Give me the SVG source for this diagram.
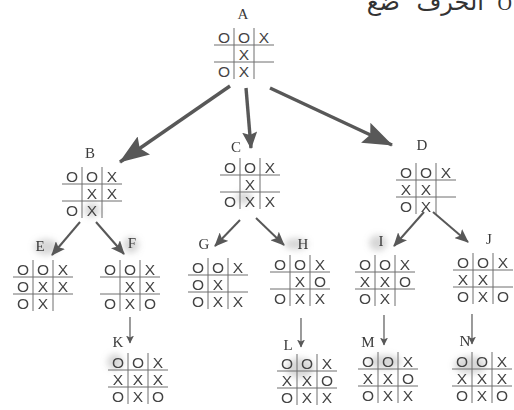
<svg xmlns="http://www.w3.org/2000/svg" width="514" height="410" viewBox="0 0 514 410">
  <defs>
    <style>
      .grid { fill: none; stroke: #6e6e6e; stroke-width: 1; }
      .m { font-family: "Liberation Sans", Arial, sans-serif; font-size: 15.5px; fill: #444; text-anchor: middle; }
      .lbl { font-family: "Liberation Serif", "Times New Roman", serif; font-size: 15px; fill: #3a3a3a; text-anchor: middle; }
      .ar { font-family: "DejaVu Sans", sans-serif; font-size: 24px; fill: #333; text-anchor: end; }
      .arrow-lg { stroke: #585858; stroke-width: 3.4; fill: none; }
      .arrow-sm { stroke: #585858; stroke-width: 2; fill: none; }
      .arrow-xs { stroke: #585858; stroke-width: 1.2; fill: none; }
      .head { fill: #585858; }
      .smudge { fill: #9a9a9a; opacity: 0.4; }
    </style>
    <filter id="soft" x="-20%" y="-20%" width="140%" height="140%">
      <feGaussianBlur stdDeviation="0.6"/>
    </filter>
    <filter id="haze" x="-50%" y="-50%" width="200%" height="200%">
      <feGaussianBlur stdDeviation="3"/>
    </filter>
    <marker id="head-lg" viewBox="0 0 30 22" refX="29" refY="11" markerWidth="30" markerHeight="22" markerUnits="userSpaceOnUse" orient="auto">
      <path class="head" d="M0,0 L30,11 L0,22 L5,11 z"/>
    </marker>
    <marker id="head-md" viewBox="0 0 17 15" refX="16" refY="7.5" markerWidth="17" markerHeight="15" markerUnits="userSpaceOnUse" orient="auto">
      <path class="head" d="M0,0 L17,7.5 L0,15 L3,7.5 z"/>
    </marker>
    <marker id="head-sm" viewBox="0 0 14 12" refX="13" refY="6" markerWidth="14" markerHeight="12" markerUnits="userSpaceOnUse" orient="auto">
      <path class="head" d="M0,0 L14,6 L0,12 L3,6 z"/>
    </marker>
    <marker id="head-xs" viewBox="0 0 8 8" refX="7.5" refY="4" markerWidth="8" markerHeight="8" markerUnits="userSpaceOnUse" orient="auto">
      <path class="head" d="M0,0 L8,4 L0,8 L2,4 z"/>
    </marker>
    <!-- empty 3x3 board: cells 20 wide, 17 tall -->
    <path id="board" class="grid" d="M20,0V51M40,0V51M0,17H60M0,34H60"/>
  </defs>

  <rect width="514" height="410" fill="#ffffff"/>

  <!-- heading line, clipped by the top edge; one word per chunk so the order stays fixed -->
  <text class="ar" y="10"><tspan x="400">ضع</tspan><tspan x="484">الحرف</tspan><tspan x="512" font-family="'Liberation Serif', serif" font-size="20">O</tspan></text>

  <!-- soft grey smudges -->
  <g id="smudges" filter="url(#haze)">
    <ellipse class="smudge" cx="46" cy="247" rx="12" ry="8"/>
    <ellipse class="smudge" cx="131" cy="245" rx="8" ry="8"/>
    <ellipse class="smudge" cx="296" cy="244" rx="12" ry="6"/>
    <ellipse class="smudge" cx="378" cy="243" rx="9" ry="8"/>
    <ellipse class="smudge" cx="92" cy="210" rx="8" ry="7"/>
    <ellipse class="smudge" cx="244" cy="198" rx="8" ry="6"/>
    <ellipse class="smudge" cx="115" cy="362" rx="8" ry="8"/>
    <ellipse class="smudge" cx="300" cy="368" rx="14" ry="10"/>
    <ellipse class="smudge" cx="385" cy="362" rx="16" ry="7"/>
    <ellipse class="smudge" cx="470" cy="365" rx="16" ry="9"/>
  </g>

  <!-- connectors -->
  <g id="connectors" filter="url(#soft)">
    <line class="arrow-lg" x1="230" y1="86" x2="120" y2="162" marker-end="url(#head-lg)"/>
    <line class="arrow-lg" x1="246" y1="88" x2="251" y2="148" marker-end="url(#head-md)"/>
    <line class="arrow-lg" x1="270" y1="88" x2="392" y2="145" marker-end="url(#head-lg)"/>
    <line class="arrow-sm" x1="80" y1="222" x2="52" y2="255" marker-end="url(#head-sm)"/>
    <line class="arrow-sm" x1="96" y1="222" x2="124" y2="254" marker-end="url(#head-sm)"/>
    <line class="arrow-sm" x1="240" y1="220" x2="215" y2="246" marker-end="url(#head-sm)"/>
    <line class="arrow-sm" x1="256" y1="218" x2="284" y2="245" marker-end="url(#head-sm)"/>
    <line class="arrow-sm" x1="424" y1="212" x2="394" y2="246" marker-end="url(#head-sm)"/>
    <line class="arrow-sm" x1="433" y1="212" x2="468" y2="242" marker-end="url(#head-sm)"/>
    <line class="arrow-xs" x1="130" y1="317" x2="130" y2="343" marker-end="url(#head-xs)"/>
    <line class="arrow-xs" x1="301" y1="318" x2="301" y2="347" marker-end="url(#head-xs)"/>
    <line class="arrow-xs" x1="384" y1="315" x2="384" y2="345" marker-end="url(#head-xs)"/>
    <line class="arrow-xs" x1="472" y1="314" x2="472" y2="344" marker-end="url(#head-xs)"/>
  </g>

  <!-- nodes -->
  <g id="node-A">
    <text class="lbl" x="243" y="19">A</text>
    <g transform="translate(214,28)">
      <use href="#board"/>
      <text class="m" x="10" y="14.5">O</text><text class="m" x="30" y="14.5">O</text><text class="m" x="50" y="14.5">X</text>
      <text class="m" x="30" y="31.5">X</text>
      <text class="m" x="10" y="48.5">O</text><text class="m" x="30" y="48.5">X</text>
    </g>
  </g>

  <g id="node-B">
    <text class="lbl" x="90" y="158">B</text>
    <g transform="translate(62,167)">
      <use href="#board"/>
      <text class="m" x="10" y="14.5">O</text><text class="m" x="30" y="14.5">O</text><text class="m" x="50" y="14.5">X</text>
      <text class="m" x="30" y="31.5">X</text><text class="m" x="50" y="31.5">X</text>
      <text class="m" x="10" y="48.5">O</text><text class="m" x="30" y="48.5">X</text>
    </g>
  </g>

  <g id="node-C">
    <text class="lbl" x="236" y="152">C</text>
    <g transform="translate(220,158)">
      <use href="#board"/>
      <text class="m" x="10" y="14.5">O</text><text class="m" x="30" y="14.5">O</text><text class="m" x="50" y="14.5">X</text>
      <text class="m" x="30" y="31.5">X</text>
      <text class="m" x="10" y="48.5">O</text><text class="m" x="30" y="48.5">X</text><text class="m" x="50" y="48.5">X</text>
    </g>
  </g>

  <g id="node-D">
    <text class="lbl" x="422" y="150">D</text>
    <g transform="translate(396,163)">
      <use href="#board"/>
      <text class="m" x="10" y="14.5">O</text><text class="m" x="30" y="14.5">O</text><text class="m" x="50" y="14.5">X</text>
      <text class="m" x="10" y="31.5">X</text><text class="m" x="30" y="31.5">X</text>
      <text class="m" x="10" y="48.5">O</text><text class="m" x="30" y="48.5">X</text>
    </g>
  </g>

  <g id="node-E">
    <text class="lbl" x="40" y="251">E</text>
    <g transform="translate(13,260)">
      <use href="#board"/>
      <text class="m" x="10" y="14.5">O</text><text class="m" x="30" y="14.5">O</text><text class="m" x="50" y="14.5">X</text>
      <text class="m" x="10" y="31.5">O</text><text class="m" x="30" y="31.5">X</text><text class="m" x="50" y="31.5">X</text>
      <text class="m" x="10" y="48.5">O</text><text class="m" x="30" y="48.5">X</text>
    </g>
  </g>

  <g id="node-F">
    <text class="lbl" x="132" y="248">F</text>
    <g transform="translate(100,260)">
      <use href="#board"/>
      <text class="m" x="10" y="14.5">O</text><text class="m" x="30" y="14.5">O</text><text class="m" x="50" y="14.5">X</text>
      <text class="m" x="30" y="31.5">X</text><text class="m" x="50" y="31.5">X</text>
      <text class="m" x="10" y="48.5">O</text><text class="m" x="30" y="48.5">X</text><text class="m" x="50" y="48.5">O</text>
    </g>
  </g>

  <g id="node-G">
    <text class="lbl" x="204" y="249">G</text>
    <g transform="translate(188,258)">
      <use href="#board"/>
      <text class="m" x="10" y="14.5">O</text><text class="m" x="30" y="14.5">O</text><text class="m" x="50" y="14.5">X</text>
      <text class="m" x="10" y="31.5">O</text><text class="m" x="30" y="31.5">X</text>
      <text class="m" x="10" y="48.5">O</text><text class="m" x="30" y="48.5">X</text><text class="m" x="50" y="48.5">X</text>
    </g>
  </g>

  <g id="node-H">
    <text class="lbl" x="303" y="249">H</text>
    <g transform="translate(270,255)">
      <use href="#board"/>
      <text class="m" x="10" y="14.5">O</text><text class="m" x="30" y="14.5">O</text><text class="m" x="50" y="14.5">X</text>
      <text class="m" x="30" y="31.5">X</text><text class="m" x="50" y="31.5">O</text>
      <text class="m" x="10" y="48.5">O</text><text class="m" x="30" y="48.5">X</text><text class="m" x="50" y="48.5">X</text>
    </g>
  </g>

  <g id="node-I">
    <text class="lbl" x="381" y="246">I</text>
    <g transform="translate(355,255)">
      <use href="#board"/>
      <text class="m" x="10" y="14.5">O</text><text class="m" x="30" y="14.5">O</text><text class="m" x="50" y="14.5">X</text>
      <text class="m" x="10" y="31.5">X</text><text class="m" x="30" y="31.5">X</text><text class="m" x="50" y="31.5">O</text>
      <text class="m" x="10" y="48.5">O</text><text class="m" x="30" y="48.5">X</text>
    </g>
  </g>

  <g id="node-J">
    <text class="lbl" x="489" y="244">J</text>
    <g transform="translate(453,253)">
      <use href="#board"/>
      <text class="m" x="10" y="14.5">O</text><text class="m" x="30" y="14.5">O</text><text class="m" x="50" y="14.5">X</text>
      <text class="m" x="10" y="31.5">X</text><text class="m" x="30" y="31.5">X</text>
      <text class="m" x="10" y="48.5">O</text><text class="m" x="30" y="48.5">X</text><text class="m" x="50" y="48.5">O</text>
    </g>
  </g>

  <g id="node-K">
    <text class="lbl" x="118" y="347">K</text>
    <g transform="translate(108,353)">
      <use href="#board"/>
      <text class="m" x="10" y="14.5">O</text><text class="m" x="30" y="14.5">O</text><text class="m" x="50" y="14.5">X</text>
      <text class="m" x="10" y="31.5">X</text><text class="m" x="30" y="31.5">X</text><text class="m" x="50" y="31.5">X</text>
      <text class="m" x="10" y="48.5">O</text><text class="m" x="30" y="48.5">X</text><text class="m" x="50" y="48.5">O</text>
    </g>
  </g>

  <g id="node-L">
    <text class="lbl" x="288" y="350">L</text>
    <g transform="translate(277,354)">
      <use href="#board"/>
      <text class="m" x="10" y="14.5">O</text><text class="m" x="30" y="14.5">O</text><text class="m" x="50" y="14.5">X</text>
      <text class="m" x="10" y="31.5">X</text><text class="m" x="30" y="31.5">X</text><text class="m" x="50" y="31.5">O</text>
      <text class="m" x="10" y="48.5">O</text><text class="m" x="30" y="48.5">X</text><text class="m" x="50" y="48.5">X</text>
    </g>
  </g>

  <g id="node-M">
    <text class="lbl" x="368" y="347">M</text>
    <g transform="translate(358,352)">
      <use href="#board"/>
      <text class="m" x="10" y="14.5">O</text><text class="m" x="30" y="14.5">O</text><text class="m" x="50" y="14.5">X</text>
      <text class="m" x="10" y="31.5">X</text><text class="m" x="30" y="31.5">X</text><text class="m" x="50" y="31.5">O</text>
      <text class="m" x="10" y="48.5">O</text><text class="m" x="30" y="48.5">X</text><text class="m" x="50" y="48.5">X</text>
    </g>
  </g>

  <g id="node-N">
    <text class="lbl" x="465" y="346">N</text>
    <g transform="translate(452,352)">
      <use href="#board"/>
      <text class="m" x="10" y="14.5">O</text><text class="m" x="30" y="14.5">O</text><text class="m" x="50" y="14.5">X</text>
      <text class="m" x="10" y="31.5">X</text><text class="m" x="30" y="31.5">X</text><text class="m" x="50" y="31.5">X</text>
      <text class="m" x="10" y="48.5">O</text><text class="m" x="30" y="48.5">X</text><text class="m" x="50" y="48.5">O</text>
    </g>
  </g>
</svg>
